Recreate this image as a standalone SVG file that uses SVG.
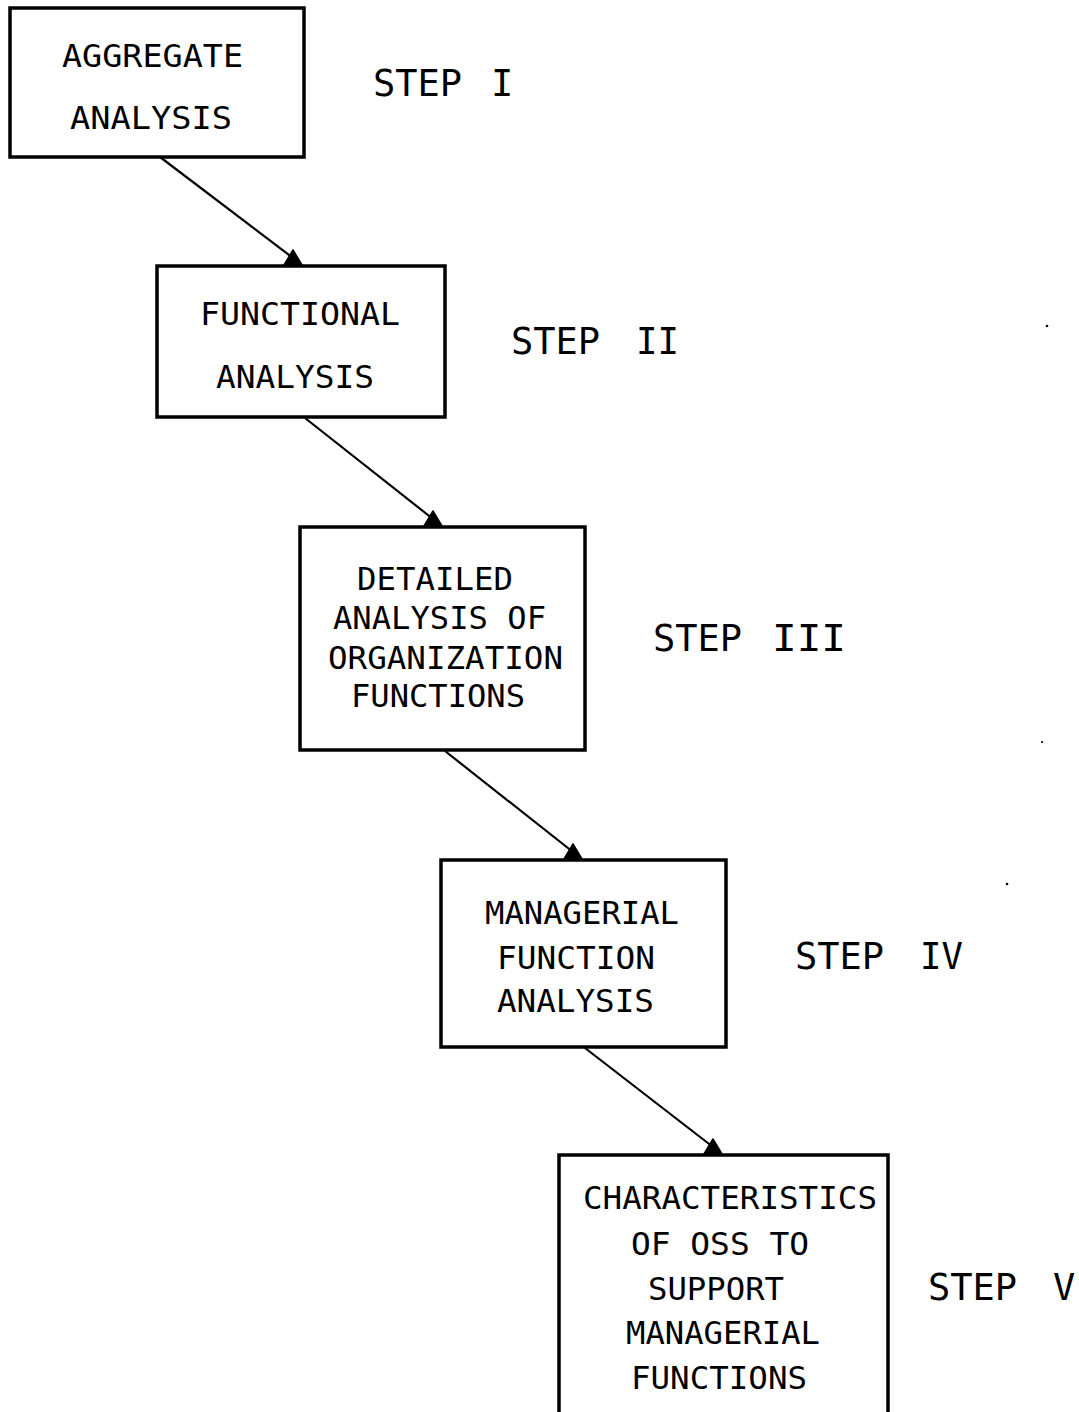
<svg xmlns="http://www.w3.org/2000/svg" width="1079" height="1412" viewBox="0 0 1079 1412">
<style>
.box{fill:#fff;stroke:#000;stroke-width:3.5}
.t{font-family:"DejaVu Sans Mono","Liberation Mono",monospace;font-size:32px;fill:#000}
.s{font-family:"DejaVu Sans Mono","Liberation Mono",monospace;font-size:37px;fill:#000}
.c{stroke:#000;stroke-width:2.2;fill:none}
.h{fill:#000;stroke:#000;stroke-width:1.5;stroke-linejoin:round}
</style>
<rect width="1079" height="1412" fill="#fff"/>
<g id="connectors">
<line class="c" x1="160" y1="157" x2="293" y2="258"/>
<polygon class="h" points="293,250 284,265 302,265"/>
<line class="c" x1="305" y1="418" x2="433" y2="519"/>
<polygon class="h" points="433,511 424,526 442,526"/>
<line class="c" x1="445" y1="751" x2="573" y2="852"/>
<polygon class="h" points="573,844 564,859 582,859"/>
<line class="c" x1="585" y1="1048" x2="713" y2="1147"/>
<polygon class="h" points="713,1139 704,1154 722,1154"/>
</g>
<g id="node1">
<rect class="box" x="10" y="8" width="294" height="149"/>
<text class="t" x="62" y="67" textLength="181" lengthAdjust="spacingAndGlyphs">AGGREGATE</text>
<text class="t" x="70" y="129" textLength="162" lengthAdjust="spacingAndGlyphs">ANALYSIS</text>
</g>
<g id="step1"><text class="s" y="96"><tspan x="373">STEP</tspan><tspan x="491">I</tspan></text></g>
<g id="node2">
<rect class="box" x="157" y="266" width="288" height="151"/>
<text class="t" x="200" y="325" textLength="200" lengthAdjust="spacingAndGlyphs">FUNCTIONAL</text>
<text class="t" x="216" y="388" textLength="158" lengthAdjust="spacingAndGlyphs">ANALYSIS</text>
</g>
<g id="step2"><text class="s" y="354"><tspan x="511">STEP</tspan><tspan x="636" textLength="43" lengthAdjust="spacingAndGlyphs">II</tspan></text></g>
<g id="node3">
<rect class="box" x="300" y="527" width="285" height="223"/>
<text class="t" x="357" y="590" textLength="156" lengthAdjust="spacingAndGlyphs">DETAILED</text>
<text class="t" x="333" y="629" textLength="213" lengthAdjust="spacingAndGlyphs">ANALYSIS OF</text>
<text class="t" x="328" y="669" textLength="235" lengthAdjust="spacingAndGlyphs">ORGANIZATION</text>
<text class="t" x="351" y="707" textLength="174" lengthAdjust="spacingAndGlyphs">FUNCTIONS</text>
</g>
<g id="step3"><text class="s" y="651"><tspan x="653">STEP</tspan><tspan x="772" textLength="74" lengthAdjust="spacingAndGlyphs">III</tspan></text></g>
<g id="node4">
<rect class="box" x="441" y="860" width="285" height="187"/>
<text class="t" x="485" y="924" textLength="194" lengthAdjust="spacingAndGlyphs">MANAGERIAL</text>
<text class="t" x="497" y="969" textLength="158" lengthAdjust="spacingAndGlyphs">FUNCTION</text>
<text class="t" x="497" y="1012" textLength="157" lengthAdjust="spacingAndGlyphs">ANALYSIS</text>
</g>
<g id="step4"><text class="s" y="969"><tspan x="795">STEP</tspan><tspan x="920" textLength="43" lengthAdjust="spacingAndGlyphs">IV</tspan></text></g>
<g id="node5">
<rect class="box" x="559" y="1155" width="329" height="290"/>
<text class="t" x="583" y="1209" textLength="294" lengthAdjust="spacingAndGlyphs">CHARACTERISTICS</text>
<text class="t" x="631" y="1255" textLength="178" lengthAdjust="spacingAndGlyphs">OF OSS TO</text>
<text class="t" x="648" y="1300" textLength="136" lengthAdjust="spacingAndGlyphs">SUPPORT</text>
<text class="t" x="626" y="1344" textLength="194" lengthAdjust="spacingAndGlyphs">MANAGERIAL</text>
<text class="t" x="631" y="1389" textLength="176" lengthAdjust="spacingAndGlyphs">FUNCTIONS</text>
</g>
<g id="step5"><text class="s" y="1300"><tspan x="928">STEP</tspan><tspan x="1053">V</tspan></text></g>
<g id="specks" fill="#000">
<circle cx="1047" cy="326" r="1.3"/>
<circle cx="1042" cy="742" r="1.1"/>
<circle cx="1007" cy="884" r="1.3"/>
</g>
</svg>
